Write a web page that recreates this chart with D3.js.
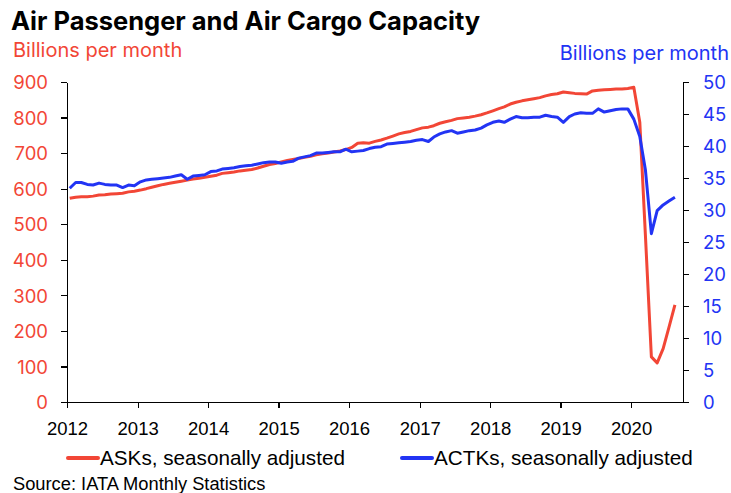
<!DOCTYPE html>
<html lang="en">
<head>
<meta charset="utf-8">
<title>Air Passenger and Air Cargo Capacity</title>
<script src="https://cdn.jsdelivr.net/npm/d3@7"></script>
<style>
	body { margin: 0; background: #fff; }
	svg text { font-family: "Liberation Sans", Arial, sans-serif; }
	.axis path, .axis line { stroke: #000; stroke-width: 1.3; shape-rendering: crispEdges; }
	.axis text { font-size: 18.5px; }
	.yaxis text { font-family: Inter, "Liberation Sans", sans-serif; font-size: 18.5px; }
	.inter { font-family: Inter, "Liberation Sans", sans-serif !important; }
</style>
</head>
<body>
<div id="vis"></div>
<script>

var w = 731;
var h = 493;

var red = "#f24636";
var blue = "#2234f4";

// monthly, Jan 2012 - Aug 2020
var startYear = 2012;

var asks = [
	573, 576, 577, 577, 579, 582, 583, 585, 586, 587, 591, 593,
	596, 600, 604, 608, 612, 615, 618, 621, 624, 627, 629, 632,
	635, 638, 643, 645, 647, 650, 652, 654, 658, 663, 668, 671,
	675, 679, 682, 685, 688, 691, 695, 698, 700, 703, 706, 710,
	716, 728, 729, 728, 733, 737, 742, 748, 754, 758, 761, 766,
	771, 773, 777, 784, 788, 792, 797, 799, 801, 804, 808, 813,
	819, 825, 830, 838, 843, 847, 850, 853, 856, 861, 865, 867,
	872, 870, 868, 867, 866, 875, 877, 878, 879, 880, 880, 882,
	885, 787, 470, 127, 110, 150, 210, 273
];

var actks = [
	33.4, 34.3, 34.3, 34.0, 33.9, 34.2, 34.0, 33.9, 33.9, 33.5, 33.9, 33.8,
	34.4, 34.7, 34.8, 34.9, 35.0, 35.1, 35.3, 35.5, 34.8, 35.3, 35.4, 35.5,
	36.0, 36.1, 36.4, 36.5, 36.6, 36.8, 36.9, 37.0, 37.2, 37.4, 37.5, 37.5,
	37.3, 37.5, 37.6, 38.1, 38.3, 38.5, 38.9, 38.9, 39.0, 39.1, 39.1, 39.5,
	39.1, 39.2, 39.3, 39.6, 39.8, 39.9, 40.3, 40.4, 40.5, 40.6, 40.7, 40.9,
	41.0, 40.7, 41.4, 41.9, 42.2, 42.4, 42.0, 42.2, 42.4, 42.5, 42.8, 43.3,
	43.7, 43.9, 43.7, 44.2, 44.6, 44.4, 44.4, 44.5, 44.5, 44.8, 44.6, 44.5,
	43.7, 44.6, 45.0, 45.2, 45.1, 45.1, 45.8, 45.3, 45.5, 45.7, 45.8, 45.8,
	44.2, 41.5, 36.3, 26.3, 29.9, 30.8, 31.4, 32.0
];

var years = [2012, 2013, 2014, 2015, 2016, 2017, 2018, 2019, 2020];
var leftTicks = [0, 100, 200, 300, 400, 500, 600, 700, 800, 900];
var rightTicks = [0, 5, 10, 15, 20, 25, 30, 35, 40, 45, 50];

var dates = asks.map(function(d, i) {
	return new Date(startYear, i, 15);
});

var xScale = d3.scaleTime()
	.domain([new Date(2012, 0, 1), new Date(2020, 9, 1)])
	.range([67, 684]);

var yLeft = d3.scaleLinear().domain([0, 900]).range([402, 82]);
var yRight = d3.scaleLinear().domain([0, 50]).range([402, 82]);

var svg = d3.select("#vis")
	.append("svg")
	.attr("width", w)
	.attr("height", h);

//Title and unit labels
svg.append("text")
	.attr("class", "inter")
	.attr("x", 11)
	.attr("y", 30)
	.attr("font-size", "25.5px")
	.attr("font-weight", "bold")
	.attr("fill", "#000")
	.text("Air Passenger and Air Cargo Capacity");

svg.append("text")
	.attr("class", "inter")
	.attr("x", 13)
	.attr("y", 57)
	.attr("font-size", "20px")
	.attr("fill", red)
	.text("Billions per month");

svg.append("text")
	.attr("class", "inter")
	.attr("x", 729)
	.attr("y", 60)
	.attr("text-anchor", "end")
	.attr("font-size", "20px")
	.attr("fill", blue)
	.text("Billions per month");

//Axes
var xAxis = d3.axisBottom(xScale)
	.tickValues(years.map(function(y) { return new Date(y, 0, 1); }))
	.tickFormat(d3.timeFormat("%Y"))
	.tickSize(6)
	.tickSizeOuter(0)
	.tickPadding(14);

var leftAxis = d3.axisLeft(yLeft)
	.tickValues(leftTicks)
	.tickSize(6)
	.tickSizeOuter(0)
	.tickPadding(13);

var rightAxis = d3.axisRight(yRight)
	.tickValues(rightTicks)
	.tickSize(6)
	.tickSizeOuter(0)
	.tickPadding(14);

var gx = svg.append("g")
	.attr("class", "axis")
	.attr("transform", "translate(0,402)")
	.call(xAxis);
gx.selectAll("text").attr("fill", "#000");

var gl = svg.append("g")
	.attr("class", "axis yaxis")
	.attr("transform", "translate(67,0)")
	.call(leftAxis);
gl.selectAll("text").attr("fill", red).attr("dy", "0.36em");

var gr = svg.append("g")
	.attr("class", "axis yaxis")
	.attr("transform", "translate(683,0)")
	.call(rightAxis);
gr.selectAll("text").attr("fill", blue).attr("dy", "0.36em");

//Lines
var lineLeft = d3.line()
	.x(function(d, i) { return xScale(dates[i]); })
	.y(function(d) { return yLeft(d); });

var lineRight = d3.line()
	.x(function(d, i) { return xScale(dates[i]); })
	.y(function(d) { return yRight(d); });

svg.append("path")
	.datum(asks)
	.attr("d", lineLeft)
	.attr("fill", "none")
	.attr("stroke", red)
	.attr("stroke-width", 3)
	.attr("stroke-linejoin", "round");

svg.append("path")
	.datum(actks)
	.attr("d", lineRight)
	.attr("fill", "none")
	.attr("stroke", blue)
	.attr("stroke-width", 3)
	.attr("stroke-linejoin", "round");

//Legend
var legend = [
	{ label: "ASKs, seasonally adjusted", color: red, x: 68 },
	{ label: "ACTKs, seasonally adjusted", color: blue, x: 402 }
];

var lg = svg.selectAll(".legend")
	.data(legend)
	.enter()
	.append("g")
	.attr("class", "legend")
	.attr("transform", function(d) { return "translate(" + d.x + ",458)"; });

lg.append("line")
	.attr("x1", 0)
	.attr("x2", 30)
	.attr("stroke", function(d) { return d.color; })
	.attr("stroke-width", 4)
	.attr("stroke-linecap", "round");

lg.append("text")
	.attr("x", 32)
	.attr("y", 7)
	.attr("font-size", "20.7px")
	.attr("fill", "#000")
	.text(function(d) { return d.label; });

//Source
svg.append("text")
	.attr("x", 13)
	.attr("y", 490)
	.attr("font-size", "18.3px")
	.attr("fill", "#000")
	.text("Source: IATA Monthly Statistics");

</script>
</body>
</html>
